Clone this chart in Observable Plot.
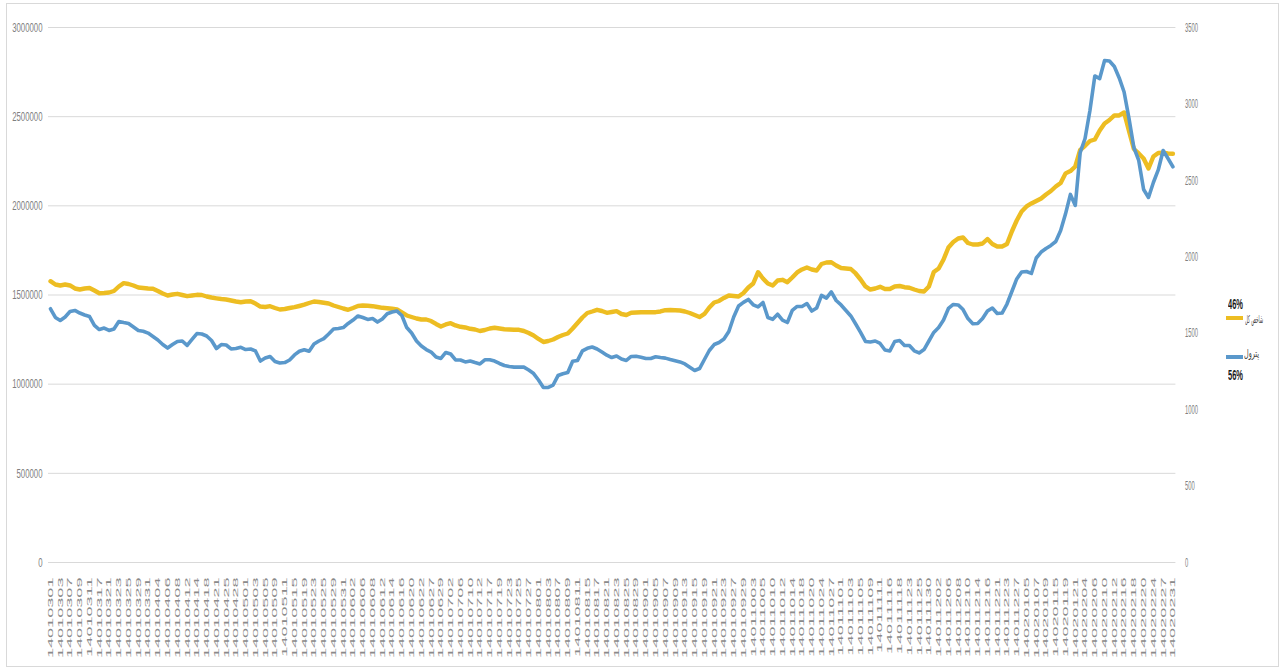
<!DOCTYPE html>
<html><head><meta charset="utf-8">
<script src="https://cdn.jsdelivr.net/npm/d3@7"></script>
<script src="https://cdn.jsdelivr.net/npm/@observablehq/plot@0.6"></script>
<style>
body{margin:0;background:#fff;}
#wrap{position:relative;width:1285px;height:670px;overflow:hidden;font-family:"Liberation Sans",Arial,sans-serif;}
#border{position:absolute;left:6px;top:3px;width:1273px;height:664px;border:1px solid #d9d9d9;box-sizing:border-box;pointer-events:none;}
.lg{position:absolute;white-space:nowrap;transform-origin:0 50%;line-height:1;}
.bar{position:absolute;height:4px;}
</style></head><body>
<div id="wrap"><div id="border"></div></div>
<script>
const dates = [
"14010301","14010302","14010303","14010304","14010307","14010308","14010309","14010310","14010311","14010316","14010317","14010318","14010321","14010322","14010323","14010324","14010325","14010328","14010329","14010330","14010331",
"14010401","14010404","14010405","14010406","14010407","14010408","14010411","14010412","14010413","14010414","14010415","14010418","14010420","14010421","14010422","14010425","14010426","14010428","14010429",
"14010501","14010502","14010503","14010504","14010505","14010508","14010509","14010510","14010511","14010512","14010515","14010518","14010519","14010522","14010523","14010524","14010525","14010526","14010529","14010530","14010531",
"14010601","14010602","14010605","14010606","14010607","14010608","14010609","14010612","14010613","14010614","14010615","14010616","14010619","14010620","14010621","14010622","14010623","14010627","14010628","14010629","14010630",
"14010702","14010704","14010706","14010709","14010710","14010711","14010712","14010716","14010717","14010718","14010719","14010720","14010723","14010724","14010725","14010726","14010727","14010730",
"14010801","14010802","14010803","14010804","14010807","14010808","14010809","14010810","14010811","14010814","14010815","14010816","14010817","14010818","14010821","14010822","14010823","14010824","14010825","14010828","14010829","14010830",
"14010901","14010902","14010905","14010906","14010907","14010908","14010909","14010912","14010913","14010914","14010915","14010916","14010919","14010920","14010921","14010922","14010923","14010926","14010927","14010928","14010929","14010930",
"14011003","14011004","14011005","14011007","14011010","14011011","14011012","14011013","14011014","14011017","14011018","14011019","14011020","14011021","14011024","14011025","14011027","14011028",
"14011101","14011102","14011103","14011104","14011105","14011108","14011109","14011110","14011111","14011112","14011116","14011117","14011118","14011119","14011123","14011124","14011125","14011126","14011130",
"14011201","14011202","14011203","14011206","14011207","14011208","14011209","14011210","14011213","14011214","14011215","14011216","14011220","14011221","14011222","14011223","14011224","14011227","14011228",
"14020105","14020106","14020107","14020108","14020109","14020114","14020115","14020116","14020119","14020120","14020121","14020122",
"14020204","14020205","14020206","14020209","14020210","14020211","14020212","14020213","14020216","14020217","14020218","14020219","14020220","14020223","14020224","14020225","14020227","14020230","14020231"
];

// شاخص کل (left axis)
const indexValues = [
1577400,1558900,1553300,1558900,1553300,1536500,1530800,1536500,1539300,1525200,
1510100,1511200,1514000,1522400,1547700,1566200,1561700,1553300,1542100,1539300,
1536500,1534800,1522400,1508400,1497200,1502800,1506700,1500000,1493300,1497200,
1501100,1500000,1491600,1486000,1481500,1477600,1474800,1469200,1463600,1459600,
1463600,1465300,1452300,1435500,1432700,1437200,1427100,1418700,1421500,1427100,
1431600,1438300,1445600,1455100,1463600,1460800,1456300,1452300,1441100,1432700,
1424300,1417000,1427100,1438300,1441100,1439400,1437200,1432700,1428200,1426000,
1422600,1418700,1401900,1385100,1376600,1368200,1362600,1362600,1354200,1337400,
1323400,1334600,1341900,1329000,1321700,1317800,1310500,1306500,1298100,1303700,
1312200,1316100,1312200,1308200,1306500,1305400,1304900,1298100,1286900,1272900,
1253300,1236500,1242100,1250500,1264500,1275700,1284100,1312200,1343000,1373800,
1399100,1407500,1417000,1410300,1400200,1404700,1409200,1393500,1387900,1400200,
1401900,1403000,1403600,1403600,1403600,1407500,1414800,1415900,1414800,1413100,
1407500,1399100,1387900,1376600,1393500,1429900,1458000,1466400,1483200,1497200,
1494400,1491600,1511200,1542100,1564500,1627900,1592500,1564500,1553300,1581300,
1585200,1571800,1598100,1626200,1643000,1654200,1643000,1637400,1673800,1682300,
1683900,1665400,1651400,1648600,1645800,1620600,1586900,1547700,1530800,1536500,
1546000,1533700,1533700,1547700,1550500,1543800,1541000,1530800,1522400,1519600,
1547700,1629000,1648600,1699100,1766400,1797200,1816800,1822400,1791600,1783200,
1783200,1788800,1814000,1786000,1772000,1772000,1786000,1856100,1917700,1968200,
1996300,2013100,2027100,2041100,2063600,2083200,2108400,2128100,2182000,2195000,
2220600,2313100,2336600,2363600,2372000,2422400,2461700,2481300,2506600,2506600,
2523400,2419600,2318700,2293500,2265400,2209400,2276600,2296300,2297400,2293500,
2291800
];

// پترول (right axis)
const petrolValues = [
1660,1603,1583,1606,1642,1649,1632,1619,1609,1551,
1524,1534,1518,1528,1577,1570,1564,1541,1518,1513,
1501,1479,1456,1426,1403,1426,1446,1449,1420,1459,
1498,1495,1482,1452,1400,1426,1423,1397,1400,1408,
1393,1397,1384,1318,1338,1348,1315,1305,1308,1325,
1358,1382,1392,1382,1429,1449,1465,1495,1528,1531,
1537,1564,1586,1613,1603,1590,1596,1573,1593,1627,
1639,1645,1616,1537,1501,1449,1416,1393,1377,1344,
1335,1374,1364,1325,1325,1312,1318,1308,1299,1326,
1326,1318,1302,1289,1282,1278,1278,1278,1259,1236,
1194,1145,1146,1161,1223,1235,1243,1317,1322,1384,
1401,1410,1397,1377,1356,1341,1351,1331,1322,1348,
1349,1343,1335,1335,1346,1341,1337,1328,1320,1312,
1299,1277,1256,1269,1328,1387,1426,1439,1462,1511,
1606,1678,1702,1721,1686,1672,1701,1603,1591,1624,
1586,1570,1649,1675,1675,1694,1645,1665,1747,1730,
1770,1714,1685,1649,1613,1560,1505,1446,1443,1449,
1433,1390,1384,1446,1452,1420,1420,1385,1371,1393,
1449,1505,1537,1586,1662,1688,1685,1655,1596,1562,
1564,1596,1645,1665,1629,1632,1691,1773,1855,1901,
1904,1891,1992,2031,2054,2074,2100,2172,2281,2408,
2336,2682,2774,2957,3183,3166,3284,3281,3245,3170,
3078,2905,2715,2630,2440,2388,2486,2568,2695,2643,
2589
];

const leftTicks = [0,500000,1000000,1500000,2000000,2500000,3000000];
const rightTicks = [0,500,1000,1500,2000,2500,3000,3500];
const labelDates = dates.filter((d,i) => i % 2 === 0);

const seriesNames = ["شاخص کل", "پترول"];
const seriesPct = ["46%", "56%"];
const colors = ["#EDBD22", "#5A98CB"];

const k = 3000000 / 3500; // right axis units -> left axis units
const data = dates.map((d,i) => ({date: d, index: indexValues[i], petrol: petrolValues[i]}));

const chart = Plot.plot({
  width: 1285, height: 670,
  marginLeft: 50, marginRight: 112.6, marginTop: 27, marginBottom: 108,
  style: {fontFamily: '"Liberation Sans", Arial, sans-serif', background: "transparent"},
  x: {type: "point", domain: dates, padding: 0, label: null},
  y: {domain: [0, 3000000], label: null},
  marks: [
    Plot.ruleY(leftTicks, {stroke: "#d9d9d9", strokeWidth: 1, insetLeft: -2, insetRight: -3}),
    Plot.line(data, {x: "date", y: "index", stroke: colors[0], strokeWidth: 4.4, strokeLinejoin: "round", strokeLinecap: "round"}),
    Plot.line(data, {x: "date", y: d => d.petrol * k, stroke: colors[1], strokeWidth: 3.6, strokeLinejoin: "round", strokeLinecap: "round"}),
    Plot.axisY(leftTicks, {anchor: "left", tickSize: 0, tickPadding: 8, tickFormat: d => String(d), fontSize: 13, color: "#808080", label: null}),
    Plot.axisY(rightTicks.map(v => v * k), {anchor: "right", tickSize: 0, tickPadding: 12, tickFormat: d => String(Math.round(d / k)), fontSize: 13, color: "#808080", label: null}),
    Plot.axisX(labelDates, {anchor: "bottom", tickRotate: -90, tickSize: 0, tickPadding: 15, fontSize: 12, color: "#8a8a8a", label: null})
  ]
});
const wrap = document.getElementById("wrap");
wrap.insertBefore(chart, wrap.firstChild);

// compress / stretch tick label glyphs to the reference's narrow look
function stretch(g, sx, sy) {
  if (!g) return;
  g.querySelectorAll("text").forEach(el => {
    const t = el.getAttribute("transform") || "";
    el.setAttribute("transform", `${t} scale(${sx},${sy})`);
  });
}
const yg = chart.querySelectorAll('g[aria-label="y-axis tick label"]');
stretch(yg[0], 0.6, 1);
stretch(yg[1], 0.45, 1);
stretch(chart.querySelector('g[aria-label="x-axis tick label"]'), 1.51, 0.62);

// legend (right side)
function addText(txt, left, top, size, weight, color, targetW, family) {
  const s = document.createElement("div");
  s.className = "lg";
  s.textContent = txt;
  s.style.left = left + "px"; s.style.top = top + "px";
  s.style.fontSize = size + "px"; s.style.fontWeight = weight; s.style.color = color;
  if (family) s.style.fontFamily = family;
  wrap.appendChild(s);
  const w = s.getBoundingClientRect().width;
  s.style.transform = `scaleX(${targetW / w})`;
}
function addBar(color, left, top, w) {
  const b = document.createElement("div");
  b.className = "bar"; b.style.background = color;
  b.style.left = left + "px"; b.style.top = top + "px"; b.style.width = w + "px";
  wrap.appendChild(b);
}
addText(seriesPct[0], 1228, 297, 14, "bold", "#1a1a1a", 15);
addBar(colors[0], 1226, 316, 17);
addText(seriesNames[0], 1245, 314, 11, "normal", "#404040", 18, '"DejaVu Sans", sans-serif');
addBar(colors[1], 1226, 355, 17);
addText(seriesNames[1], 1244, 348, 11, "normal", "#404040", 15, '"DejaVu Sans", sans-serif');
addText(seriesPct[1], 1228, 368, 14, "bold", "#1a1a1a", 15);
</script>
</body></html>
